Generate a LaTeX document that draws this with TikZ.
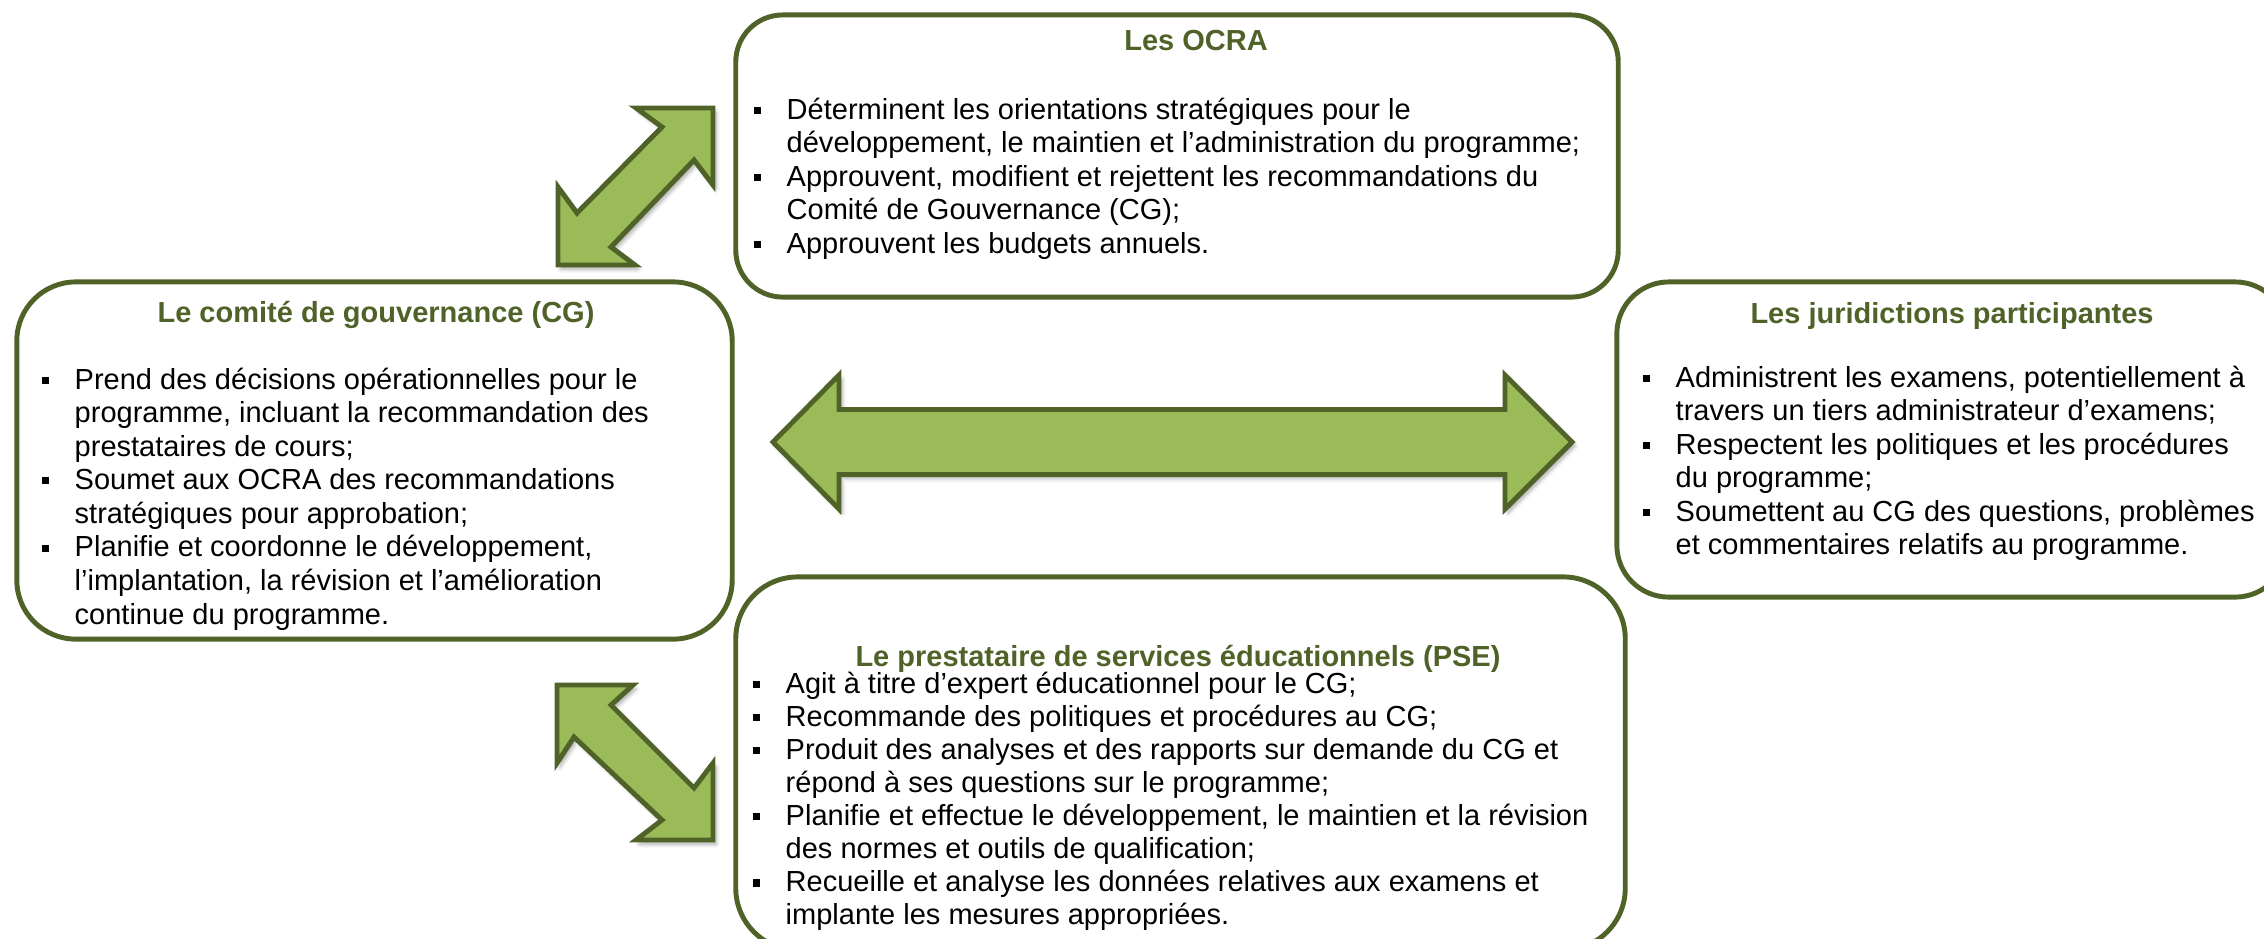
\documentclass[tikz,border=0pt]{standalone}
\usepackage{fontspec}
\setmainfont{Liberation Sans}
\usepackage{tikz}
\usetikzlibrary{shadows.blur}
\definecolor{olivefonce}{HTML}{4F6228}
\definecolor{olivevert}{HTML}{9BBB59}
\newcommand{\taille}{\fontsize{8.25}{9.55}\selectfont}
\newcommand{\taillepse}{\fontsize{8.25}{9.42}\selectfont}
\newcommand{\puce}{\makebox[0.33cm][l]{\rule[1.5pt]{2pt}{2pt}}}

\begin{document}
\begin{tikzpicture}[
    x=0.01cm, y=-0.01cm,
    cadre/.style={rectangle, rounded corners=#1, draw=olivefonce, line width=1.4pt, inner sep=0pt},
    cadre/.default=0.5cm,
    titre/.style={anchor=base, inner sep=0pt, font=\taille\bfseries, text=olivefonce},
    liste/.style={anchor=base west, inner sep=0pt, font=\taille},
    fleche/.style={draw=olivefonce, line width=1.4pt, fill=olivevert,
        blur shadow={shadow xshift=0.03cm, shadow yshift=-0.04cm, shadow blur radius=0.04cm, shadow opacity=35}}
]
    \useasboundingbox (0,0) rectangle (2264,938);
    \clip (0,0) rectangle (2264,938);

    % cadres
    \node[cadre=0.47cm, minimum width=8.82cm, minimum height=2.82cm] (ocra) at (1177,156) {};
    \node[cadre=0.59cm, minimum width=7.15cm, minimum height=3.57cm] (cg) at (374.5,460.5) {};
    \node[cadre=0.52cm, minimum width=6.70cm, minimum height=3.15cm] (jur) at (1952,439.5) {};
    \node[cadre=0.62cm, minimum width=8.89cm, minimum height=3.73cm] (pse) at (1180.5,763.5) {};

    % titres
    \node[titre] (ocra-titre) at (1196,50) {Les OCRA};
    \node[titre] (cg-titre) at (376,322) {Le comité de gouvernance (CG)};
    \node[titre] (jur-titre) at (1952,323) {Les juridictions participantes};
    \node[titre] (pse-titre) at (1178,666) {Le prestataire de services éducationnels (PSE)};

    % listes
    \node[liste] (ocra-liste) at (753,119) {\begin{tabular}[t]{@{}l@{}l@{}}
        \puce & Déterminent les orientations stratégiques pour le\\
              & développement, le maintien et l’administration du programme;\\
        \puce & Approuvent, modifient et rejettent les recommandations du\\
              & Comité de Gouvernance (CG);\\
        \puce & Approuvent les budgets annuels.
    \end{tabular}};
    \node[liste] (cg-liste) at (41,389) {\begin{tabular}[t]{@{}l@{}l@{}}
        \puce & Prend des décisions opérationnelles pour le\\
              & programme, incluant la recommandation des\\
              & prestataires de cours;\\
        \puce & Soumet aux OCRA des recommandations\\
              & stratégiques pour approbation;\\
        \puce & Planifie et coordonne le développement,\\
              & l’implantation, la révision et l’amélioration\\
              & continue du programme.
    \end{tabular}};
    \node[liste] (jur-liste) at (1642,387) {\begin{tabular}[t]{@{}l@{}l@{}}
        \puce & Administrent les examens, potentiellement à\\
              & travers un tiers administrateur d’examens;\\
        \puce & Respectent les politiques et les procédures\\
              & du programme;\\
        \puce & Soumettent au CG des questions, problèmes\\
              & et commentaires relatifs au programme.
    \end{tabular}};
    \node[liste, font=\taillepse] (pse-liste) at (752,693) {\begin{tabular}[t]{@{}l@{}l@{}}
        \puce & Agit à titre d’expert éducationnel pour le CG;\\
        \puce & Recommande des politiques et procédures au CG;\\
        \puce & Produit des analyses et des rapports sur demande du CG et\\
              & répond à ses questions sur le programme;\\
        \puce & Planifie et effectue le développement, le maintien et la révision\\
              & des normes et outils de qualification;\\
        \puce & Recueille et analyse les données relatives aux examens et\\
              & implante les mesures appropriées.
    \end{tabular}};

    % fleches doubles
    \draw[fleche] (713,108) -- (713,185) -- (694,160) -- (611,247) -- (635,265) -- (558,265)
        -- (558,187) -- (577,213) -- (662,127) -- (636,108) -- cycle;
    \draw[fleche] (773,442) -- (839,375) -- (839,409.5) -- (1505,409.5) -- (1505,375) -- (1572,442)
        -- (1505,509) -- (1505,474.5) -- (839,474.5) -- (839,509) -- cycle;
    \draw[fleche] (557,685) -- (633,685) -- (611,705) -- (694,788) -- (713,763) -- (713,840)
        -- (636,840) -- (662,820) -- (574,737) -- (557,763) -- cycle;
\end{tikzpicture}
\end{document}
